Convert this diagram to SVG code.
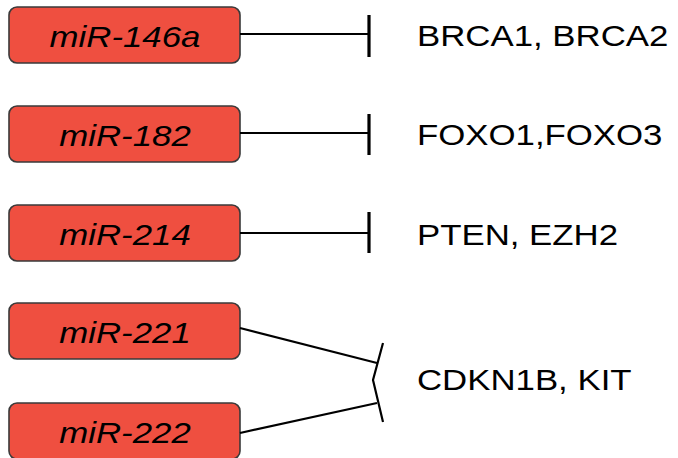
<svg xmlns="http://www.w3.org/2000/svg" width="678" height="458" viewBox="0 0 678 458">
  <style>
    .mir rect { fill: #EF4F40; stroke: #3a3a3a; stroke-width: 1.6; }
    .mir text { font-family: "Liberation Sans", Arial, sans-serif; font-style: italic; font-size: 29px; fill: #000; text-anchor: middle; }
    .target text { font-family: "Liberation Sans", Arial, sans-serif; font-size: 29px; fill: #000; }
    .edges { stroke: #000; fill: none; stroke-width: 2.2; }
    .edges .bar { stroke-width: 3.2; }
  </style>

  <!-- microRNA nodes -->
  <g id="mir146a" class="mir">
    <rect x="9" y="7" width="231" height="56" rx="8"/>
    <text transform="translate(125,47) scale(1.2,1)">miR-146a</text>
  </g>
  <g id="mir182" class="mir">
    <rect x="9" y="106" width="231" height="56" rx="8"/>
    <text transform="translate(125,146) scale(1.2,1)">miR-182</text>
  </g>
  <g id="mir214" class="mir">
    <rect x="9" y="205" width="231" height="56" rx="8"/>
    <text transform="translate(125,245) scale(1.2,1)">miR-214</text>
  </g>
  <g id="mir221" class="mir">
    <rect x="9" y="303" width="231" height="56" rx="8"/>
    <text transform="translate(125,343) scale(1.2,1)">miR-221</text>
  </g>
  <g id="mir222" class="mir">
    <rect x="9" y="403" width="231" height="56" rx="8"/>
    <text transform="translate(125,443) scale(1.2,1)">miR-222</text>
  </g>

  <!-- target genes -->
  <g id="brca" class="target">
    <text transform="translate(417,46) scale(1.2,1)">BRCA1, BRCA2</text>
  </g>
  <g id="foxo" class="target">
    <text transform="translate(417,145) scale(1.2,1)">FOXO1,FOXO3</text>
  </g>
  <g id="pten" class="target">
    <text transform="translate(417,245) scale(1.2,1)">PTEN, EZH2</text>
  </g>
  <g id="cdkn1b" class="target">
    <text transform="translate(417,390) scale(1.2,1)">CDKN1B, KIT</text>
  </g>

  <!-- inhibition connectors -->
  <g id="edges" class="edges">
    <line x1="240" y1="34" x2="369" y2="34"/>
    <line class="bar" x1="369" y1="15" x2="369" y2="57"/>
    <line x1="240" y1="133" x2="369" y2="133"/>
    <line class="bar" x1="369" y1="114" x2="369" y2="155"/>
    <line x1="240" y1="233" x2="369" y2="233"/>
    <line class="bar" x1="369" y1="212" x2="369" y2="253"/>
    <line x1="240" y1="328" x2="377" y2="363"/>
    <line x1="240" y1="433" x2="377" y2="403"/>
    <polyline points="383,343 373,380 383,422"/>
  </g>
</svg>
